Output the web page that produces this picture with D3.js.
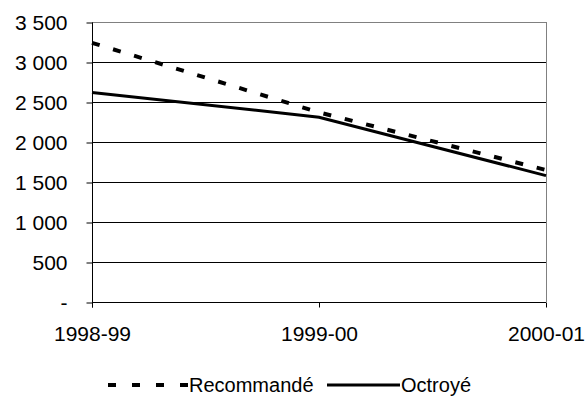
<!DOCTYPE html>
<html>
<head>
<meta charset="utf-8">
<script src="https://cdn.jsdelivr.net/npm/d3@7"></script>
<style>
  body { margin: 0; background: #fff; }
  text { font-family: "Liberation Sans", Arial, sans-serif; fill: #000; }
</style>
</head>
<body>
<div id="chart-area"></div>
<script>
let width = 585,
    height = 413;

// data
let years = ["1998-99", "1999-00", "2000-01"];
let recommande = [3240, 2370, 1650];
let octroye = [2620, 2310, 1580];
let yTicks = [0, 500, 1000, 1500, 2000, 2500, 3000, 3500];
let seriesNames = ["Recommandé", "Octroyé"];

let margin = {left: 92, right: 39, top: 22, bottom: 111};

let svg = d3.select("#chart-area").append("svg")
  .attr("width", width)
  .attr("height", height);

let x = d3.scalePoint()
  .domain(years)
  .range([margin.left, width - margin.right]);

let y = d3.scaleLinear()
  .domain([0, 3500])
  .range([height - margin.bottom, margin.top]);

// format "3 500", zero shown as "-"
let fmt = d => d === 0 ? "-" : d3.format(",")(d).replace(",", "\u00a0");

// gridlines
svg.selectAll(".grid")
  .data(yTicks.filter(d => d > 0))
  .enter()
  .append("line")
  .attr("x1", margin.left)
  .attr("x2", width - margin.right)
  .attr("y1", d => Math.round(y(d)) + 0.5)
  .attr("y2", d => Math.round(y(d)) + 0.5)
  .attr("stroke", d => d === 3500 ? "#808080" : "#000")
  .attr("stroke-width", 1);

// right border
svg.append("line")
  .attr("x1", width - margin.right + 0.5)
  .attr("x2", width - margin.right + 0.5)
  .attr("y1", y(3500))
  .attr("y2", y(0))
  .attr("stroke", "#808080");

// y axis
let yAxis = svg.append("g")
  .attr("transform", "translate(" + (margin.left + 0.5) + ",0.5)")
  .call(d3.axisLeft(y).tickValues(yTicks).tickSize(6).tickFormat(fmt).tickPadding(19));
yAxis.select(".domain").attr("stroke", "#000").attr("d", "M0," + y(3500) + "V" + (y(0) + 5));
yAxis.selectAll(".tick line").attr("stroke", "#000");
yAxis.selectAll(".tick text")
  .style("font-size", "21px")
  .attr("fill", "#000");

// x axis
let xAxis = svg.append("g")
  .attr("transform", "translate(0," + (y(0) + 0.5) + ")")
  .call(d3.axisBottom(x).tickSize(5).tickPadding(19));
xAxis.select(".domain").attr("stroke", "#000").attr("d", "M" + margin.left + ",0H" + (width - margin.right));
xAxis.selectAll(".tick line").attr("stroke", "#000");
xAxis.selectAll(".tick text")
  .style("font-size", "21px")
  .attr("fill", "#000");

// lines
let line = d3.line()
  .x((d, i) => x(years[i]))
  .y(d => y(d));

svg.append("path")
  .datum(recommande)
  .attr("d", line)
  .attr("fill", "none")
  .attr("stroke", "#000")
  .attr("stroke-width", 4)
  .attr("stroke-dasharray", "8,14");

svg.append("path")
  .datum(octroye)
  .attr("d", line)
  .attr("fill", "none")
  .attr("stroke", "#000")
  .attr("stroke-width", 3);

// legend
let legend = svg.append("g").attr("transform", "translate(0,385)");

legend.append("line")
  .attr("x1", 108).attr("x2", 188)
  .attr("y1", 0).attr("y2", 0)
  .attr("stroke", "#000")
  .attr("stroke-width", 4)
  .attr("stroke-dasharray", "8,16");

legend.append("text")
  .attr("x", 189)
  .attr("y", 7)
  .style("font-size", "20px")
  .text(seriesNames[0]);

legend.append("line")
  .attr("x1", 327).attr("x2", 400)
  .attr("y1", 0).attr("y2", 0)
  .attr("stroke", "#000")
  .attr("stroke-width", 3);

legend.append("text")
  .attr("x", 401)
  .attr("y", 7)
  .style("font-size", "20px")
  .text(seriesNames[1]);
</script>
</body>
</html>
